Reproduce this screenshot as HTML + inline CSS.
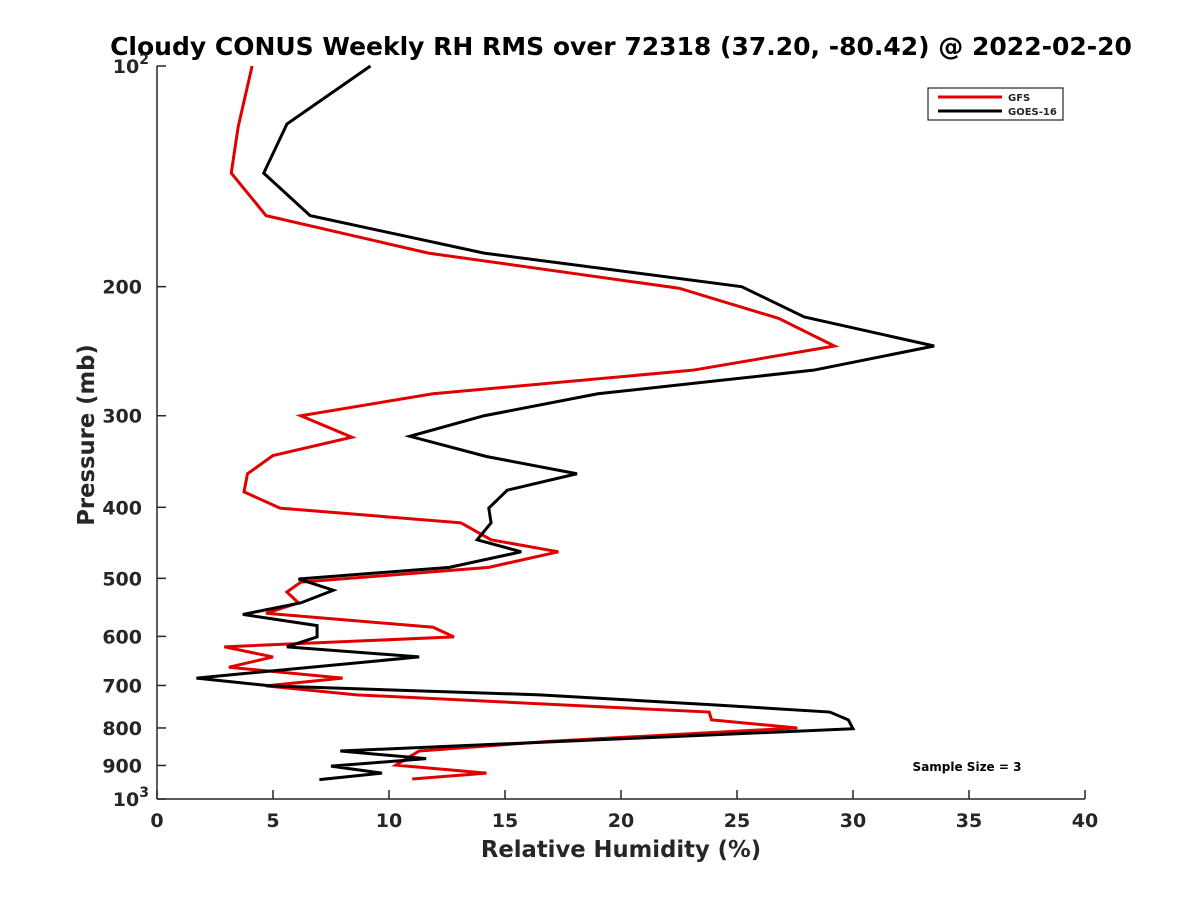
<!DOCTYPE html>
<html><head><meta charset="utf-8"><style>
body{margin:0;background:#fff}
svg text{font-family:"DejaVu Sans","Liberation Sans",sans-serif;font-weight:bold;fill:#262626}
</style></head><body>
<svg id="chart" width="1200" height="900" viewBox="0 0 1200 900" xmlns="http://www.w3.org/2000/svg">
<rect width="1200" height="900" fill="#fff"/>
<text x="621" y="55" font-size="25" text-anchor="middle" style="fill:#000">Cloudy CONUS Weekly RH RMS over 72318 (37.20, -80.42) @ 2022-02-20</text>
<g id="axes"></g>
<g id="series"></g>
<text x="621" y="857" font-size="22.7" text-anchor="middle">Relative Humidity (%)</text>
<text transform="translate(94,435) rotate(-90)" font-size="22.7" text-anchor="middle">Pressure (mb)</text>
<g>
<rect x="928" y="88" width="135" height="32" fill="#fff" stroke="#262626" stroke-width="1.2"/>
<line x1="938" y1="97" x2="1002" y2="97" stroke="#e00000" stroke-width="3"/>
<text x="1008" y="101" font-size="10">GFS</text>
<line x1="938" y1="111" x2="1002" y2="111" stroke="#000" stroke-width="3"/>
<text x="1008" y="115" font-size="10">GOES-16</text>
</g>
<text x="967" y="771" font-size="12" text-anchor="middle" style="fill:#000">Sample Size = 3</text>
</svg>
<script>
const xTicks=[0,5,10,15,20,25,30,35,40];
const yTicks=[100,200,300,400,500,600,700,800,900,1000];
const gfsP=[100,121,140,160,180,201,221,241,260,280,300,321,340,360,381,401,420,443,460,483,506,522,540,558,583,601,620,640,661,684,701,721,761,780,800,834,860,899,922,939];
const gfsRH=[4.1,3.5,3.2,4.7,11.7,22.5,26.8,29.2,23.1,11.9,6.2,8.4,5.0,3.9,3.75,5.3,13.1,14.4,17.3,14.3,6.2,5.6,6.1,4.7,11.9,12.8,2.9,5.0,3.1,8.0,4.7,8.6,23.8,23.9,27.6,17.0,11.3,10.3,14.2,11.0];
const goesP=[100,120,140,160,180,200,220,241,260,280,300,320,341,360,379,401,420,443,460,483,501,519,540,560,580,601,620,640,684,701,721,744,761,780,802,860,881,902,922,941];
const goesRH=[9.2,5.6,4.6,6.6,14.1,25.2,27.9,33.5,28.3,19.0,14.1,10.9,14.2,18.1,15.1,14.3,14.4,13.8,15.7,12.6,6.1,7.6,6.2,3.7,6.9,6.9,5.6,11.3,1.7,4.9,16.5,24.0,29.0,29.8,30.0,7.9,11.6,7.5,9.7,7.0];
const X0=157,X1=1085,Y0=66,Y1=799;
const xs=v=>X0+(v-0)/40*(X1-X0);
const ys=p=>Y0+Math.log10(p/100)*(Y1-Y0);
const NS='http://www.w3.org/2000/svg';
const ax=document.getElementById('axes');
function mk(t,a,parent){const e=document.createElementNS(NS,t);for(const k in a)e.setAttribute(k,a[k]);parent.appendChild(e);return e;}
let l=mk('line',{x1:X0,y1:Y0,x2:X0,y2:Y1,stroke:'#262626','stroke-width':1.5},ax);


l=mk('line',{x1:X0,y1:Y1,x2:X1,y2:Y1,stroke:'#262626','stroke-width':1.5},ax);


xTicks.forEach(v=>{const x=xs(v);
 mk('line',{x1:x,y1:Y1,x2:x,y2:Y1-9,stroke:'#262626','stroke-width':1.5},ax);
 const t=mk('text',{x:x,y:Y1+28,'font-size':19,'text-anchor':'middle'},ax);t.textContent=v;
 
 
});
yTicks.forEach(p=>{const y=ys(p);
 mk('line',{x1:X0,y1:y,x2:X0+9,y2:y,stroke:'#262626','stroke-width':1.5},ax);
 const t=mk('text',{x:X0-15,y:y+7,'font-size':19,'text-anchor':'end'},ax);
 
 
 if(p===100||p===1000){t.textContent='10';const s=document.createElementNS(NS,'tspan');s.setAttribute('dy','-9');s.setAttribute('font-size','14');s.textContent=p===100?'2':'3';t.appendChild(s);t.setAttribute('x',X0-8);}
 else t.textContent=p;
});
const sg=document.getElementById('series');
function line(P,R,c,n){const pl=mk('polyline',{points:P.map((p,i)=>xs(R[i])+','+ys(p)).join(' '),fill:'none',stroke:c,'stroke-width':3,'stroke-linejoin':'miter'},sg);
 
 }
line(gfsP,gfsRH,'#e00000','gfs-line');
line(goesP,goesRH,'#000','goes16-line');
</script>
</body></html>
